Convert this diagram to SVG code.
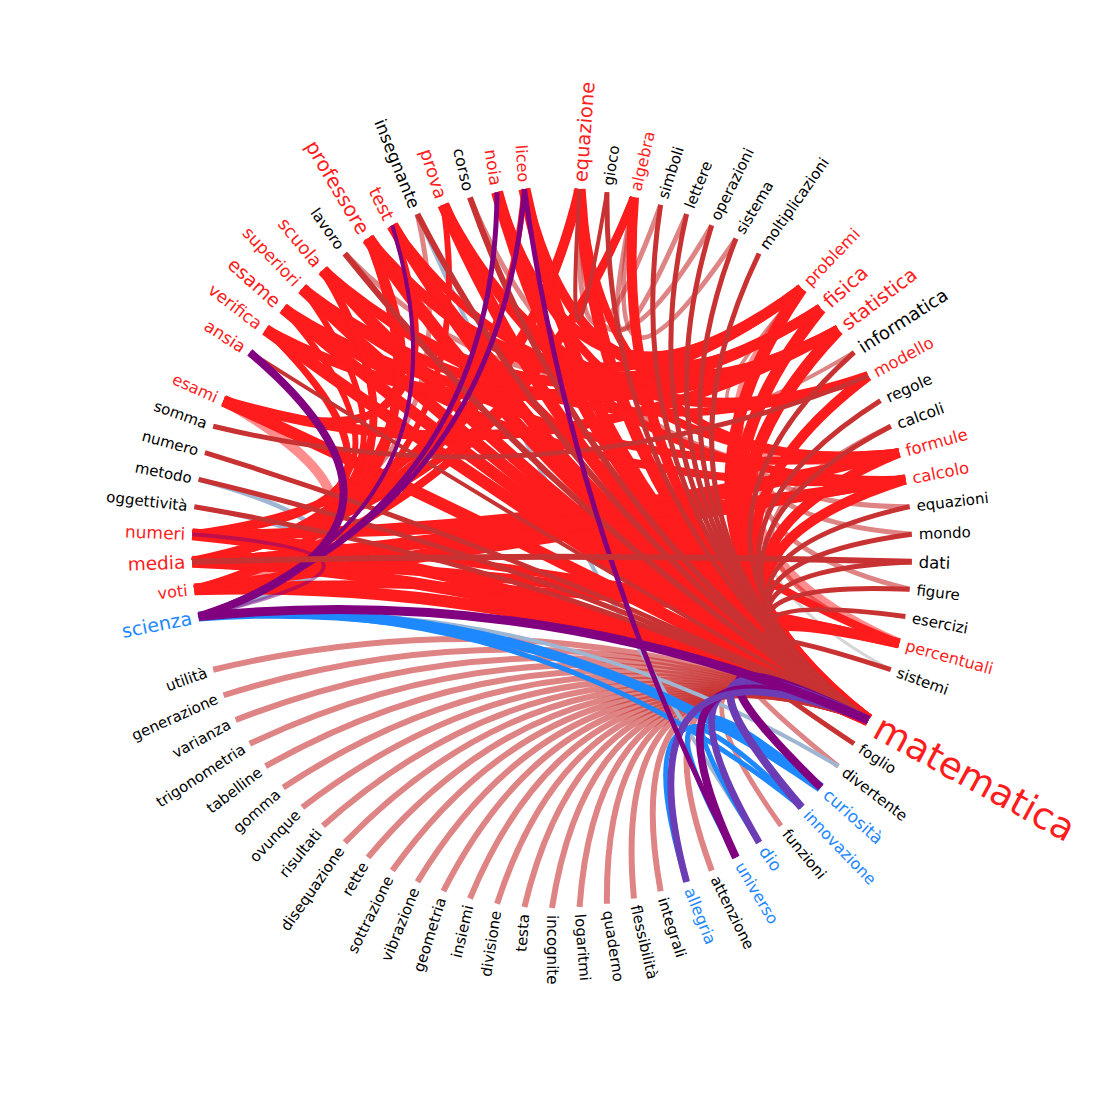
<svg xmlns="http://www.w3.org/2000/svg" width="1105" height="1098" viewBox="0 0 1105 1098">
<style>
path{fill:none}
.pk{stroke:#c83232;stroke-opacity:.6}
.dr{stroke:#c83232}
.r{stroke:#ff1c1c}
.rl{stroke:#ff1c1c;stroke-opacity:.5}
.pu{stroke:#800080}
.pb{stroke:#6c3cb4}
.bl{stroke:#1e88ff}
.lb{stroke:#9fb6d3}
.gr{stroke:#d6d6d6}
text{font-family:"DejaVu Sans","Liberation Sans",sans-serif}
.k{fill:#000}.rd{fill:#ff1c1c}.b{fill:#1e88ff}
.L{text-anchor:end}
</style>
<rect width="1105" height="1098" fill="#fff"/>
<defs>
<path id="e1" d="M360 0Q100.7 3.9 358.9 27.6"/>
<path id="e2" d="M360 0Q100.2 7.7 355.8 55"/>
<path id="e3" d="M360 0Q99.5 11.5 350.5 82"/>
<path id="e4" d="M360 0Q98.5 15.2 343.2 108.6"/>
<path id="e5" d="M360 0Q97.1 18.8 333.9 134.6"/>
<path id="e6" d="M360 0Q95.6 22.4 322.6 159.7"/>
<path id="e7" d="M360 0Q93.7 25.8 309.4 184"/>
<path id="e8" d="M360 0Q91.6 29 294.5 207.1"/>
<path id="e9" d="M360 0Q89.3 32.1 277.7 229"/>
<path id="e10" d="M360 0Q86.7 34.9 259.4 249.6"/>
<path id="e11" d="M360 0Q83.9 37.6 239.5 268.8"/>
<path id="e12" d="M360 0Q81 40.1 218.2 286.3"/>
<path id="e13" d="M360 0Q77.8 42.3 195.7 302.2"/>
<path id="e14" d="M360 0Q74.5 44.3 172 316.3"/>
<path id="e15" d="M360 0Q71 46 147.3 328.5"/>
<path id="e16" d="M360 0Q67.4 47.4 121.7 338.8"/>
<path id="e17" d="M360 0Q63.8 48.6 95.4 347.1"/>
<path id="e18" d="M360 0Q60 49.5 68.5 353.4"/>
<path id="e19" d="M360 0Q56.2 50.1 41.3 357.6"/>
<path id="e20" d="M360 0Q52.3 50.4 13.8 359.7"/>
<path id="e21" d="M360 0Q48.5 50.4 -13.8 359.7"/>
<path id="e22" d="M360 0Q44.6 50.1 -41.3 357.6"/>
<path id="e23" d="M360 0Q40.8 49.5 -68.5 353.4"/>
<path id="e24" d="M360 0Q37 48.6 -95.4 347.1"/>
<path id="e25" d="M360 0Q33.4 47.4 -121.7 338.8"/>
<path id="e26" d="M360 0Q29.8 46 -147.3 328.5"/>
<path id="e27" d="M360 0Q26.3 44.3 -172 316.3"/>
<path id="e28" d="M360 0Q23 42.3 -195.7 302.2"/>
<path id="e29" d="M360 0Q19.8 40.1 -218.2 286.3"/>
<path id="e30" d="M360 0Q16.9 37.6 -239.5 268.8"/>
<path id="e31" d="M360 0Q14.1 34.9 -259.4 249.6"/>
<path id="e32" d="M360 0Q11.5 32.1 -277.7 229"/>
<path id="e33" d="M360 0Q9.2 29 -294.5 207.1"/>
<path id="e34" d="M360 0Q7.1 25.8 -309.4 184"/>
<path id="e35" d="M360 0Q5.3 22.4 -322.6 159.7"/>
<path id="e36" d="M360 0Q3.7 18.8 -333.9 134.6"/>
<path id="e37" d="M360 0Q2.4 15.2 -343.2 108.6"/>
<path id="e38" d="M360 0Q1.3 11.5 -350.5 82"/>
<path id="e39" d="M360 0Q.6 7.7 -355.8 55"/>
<path id="e40" d="M360 0Q.1 3.9 -358.9 27.6"/>
</defs>
<g id="connectors" transform="translate(552 548)">
<g class="pk" stroke-width="6" transform="rotate(28.54)">
<use href="#e2" stroke-width="5"/><use href="#e5" stroke-width="5"/><use href="#e8"/><use href="#e10"/><use href="#e11"/><use href="#e12"/><use href="#e13"/><use href="#e14"/><use href="#e15"/><use href="#e16"/><use href="#e17"/><use href="#e18"/><use href="#e19"/><use href="#e20"/><use href="#e21"/><use href="#e22"/><use href="#e23"/><use href="#e24"/><use href="#e25"/><use href="#e26"/><use href="#e27"/><use href="#e28"/><use href="#e29"/><use href="#e30"/>
</g>
<g class="pk" stroke-width="5">
<use href="#e3" transform="rotate(-85.61)"/>
<use href="#e2" transform="rotate(-76.83)"/>
<use href="#e5" transform="rotate(-85.61)"/>
<use href="#e4" transform="rotate(-76.83)"/>
<use href="#e3" transform="rotate(-46.1)" stroke-width="4"/>
<use href="#e8" transform="rotate(-19.76)"/>
<use href="#e9" transform="rotate(-46.1)"/>
<use href="#e9" transform="rotate(-41.71)"/>
<use href="#e10" transform="rotate(-37.32)"/>
<use href="#e19" transform="rotate(234.88)"/>
<use href="#e16" transform="rotate(177.8)"/>
<use href="#e21" transform="rotate(256.83)"/>
</g>
<use class="gr" href="#e12" transform="rotate(-32.93)" stroke-width="3"/>
<g class="lb">
<use href="#e5" transform="rotate(169.02)" stroke-width="5"/>
<use href="#e4" transform="rotate(169.02)" stroke-width="4"/>
<use href="#e30" transform="rotate(37.32)" stroke-width="4"/>
<use href="#e38" transform="rotate(248.05)" stroke-width="4"/>
</g>
<g class="r" stroke-width="8">
<use href="#e26" transform="rotate(-85.61)" stroke-width="12"/>
<use href="#e24" transform="rotate(-76.83)" stroke-width="10"/>
<use href="#e17" transform="rotate(-46.1)" stroke-width="12"/>
<use href="#e16" transform="rotate(-41.71)" stroke-width="12"/>
<use href="#e15" transform="rotate(-37.32)" stroke-width="12"/>
<use href="#e13" transform="rotate(-28.54)" stroke-width="10"/>
<use href="#e10" transform="rotate(-15.37)" stroke-width="10"/>
<use href="#e9" transform="rotate(-10.98)" stroke-width="10"/>
<use href="#e3" transform="rotate(15.36)" stroke-width="10"/>
<use href="#e33" transform="rotate(28.54)" stroke-width="12"/>
<use href="#e34" transform="rotate(28.54)" stroke-width="12"/>
<use href="#e35" transform="rotate(28.54)" stroke-width="12"/>
<use href="#e40" transform="rotate(28.54)" stroke-width="12"/>
<use href="#e39" transform="rotate(217.32)" stroke-width="12"/>
<use href="#e38" transform="rotate(221.71)" stroke-width="12"/>
<use href="#e37" transform="rotate(226.1)" stroke-width="12"/>
<use href="#e36" transform="rotate(230.49)" stroke-width="12"/>
<use href="#e34" transform="rotate(239.27)" stroke-width="13"/>
<use href="#e33" transform="rotate(243.66)" stroke-width="12"/>
<use href="#e31" transform="rotate(252.44)" stroke-width="12"/>
<use href="#e29" transform="rotate(261.22)" stroke-width="12"/>
<use href="#e28" transform="rotate(265.61)" stroke-width="12"/>
<g transform="rotate(239.27)"><use href="#e17" stroke-width="10"/><use href="#e18"/><use href="#e19" stroke-width="10"/></g>
<g transform="rotate(230.49)"><use href="#e20" stroke-width="10"/><use href="#e23"/></g>
<g transform="rotate(226.1)"><use href="#e22" stroke-width="10"/><use href="#e27"/></g>
<g transform="rotate(221.71)"><use href="#e22" stroke-width="10"/><use href="#e29"/></g>
<use href="#e22" transform="rotate(217.32)" stroke-width="10"/>
<g transform="rotate(243.66)"><use href="#e18"/><use href="#e30"/></g>
<g transform="rotate(252.44)"><use href="#e18" stroke-width="10"/><use href="#e22"/></g>
<g transform="rotate(261.22)"><use href="#e12" stroke-width="10"/><use href="#e19"/></g>
<g transform="rotate(265.61)"><use href="#e12"/><use href="#e13" stroke-width="10"/></g>
<g transform="rotate(177.8)"><use href="#e14"/><use href="#e12"/><use href="#e11" stroke-width="6"/><use href="#e9" stroke-width="6"/><use href="#e20" stroke-width="6"/><use href="#e22" stroke-width="10"/><use href="#e24"/><use href="#e39" stroke-width="10"/><use href="#e38"/></g>
<g transform="rotate(173.41)"><use href="#e15"/><use href="#e13" stroke-width="6"/><use href="#e18" stroke-width="6"/><use href="#e25"/><use href="#e39" stroke-width="10"/><use href="#e40"/></g>
<g transform="rotate(182.2)"><use href="#e9" stroke-width="6"/><use href="#e8" stroke-width="6"/><use href="#e21"/><use href="#e38" stroke-width="10"/><use href="#e37"/></g>
<g transform="rotate(204.15)"><use href="#e8"/><use href="#e9" stroke-width="6"/><use href="#e27" stroke-width="10"/></g>
<use href="#e16" transform="rotate(-85.61)"/>
<g transform="rotate(15.36)"><use href="#e37" stroke-width="10"/><use href="#e38"/><use href="#e36"/></g>
</g>
<g class="rl">
<use href="#e7" transform="rotate(173.41)" stroke-width="10"/>
<use href="#e12" transform="rotate(-37.32)" stroke-width="10"/>
<use href="#e7" transform="rotate(-46.1)" stroke-width="8"/>
</g>
<g class="dr" stroke-width="5">
<use href="#e25" transform="rotate(-81.22)"/>
<use href="#e23" transform="rotate(-72.44)"/>
<use href="#e22" transform="rotate(-68.05)"/>
<use href="#e21" transform="rotate(-63.66)"/>
<use href="#e20" transform="rotate(-59.27)"/>
<use href="#e19" transform="rotate(-54.88)"/>
<use href="#e14" transform="rotate(-32.93)"/>
<use href="#e12" transform="rotate(-24.15)"/>
<use href="#e11" transform="rotate(-19.76)"/>
<use href="#e8" transform="rotate(-6.59)"/>
<use href="#e7" transform="rotate(-2.2)"/>
<use href="#e6" transform="rotate(2.19)"/>
<use href="#e5" transform="rotate(6.58)"/>
<use href="#e4" transform="rotate(10.97)"/>
<use href="#e2" transform="rotate(19.76)"/>
<use href="#e1" transform="rotate(28.54)"/>
<use href="#e36" transform="rotate(28.54)"/>
<use href="#e37" transform="rotate(28.54)"/>
<use href="#e38" transform="rotate(28.54)"/>
<use href="#e40" transform="rotate(212.93)" stroke-width="4"/>
<use href="#e35" transform="rotate(234.88)" stroke-width="6"/>
<use href="#e32" transform="rotate(248.05)" stroke-width="6"/>
<use href="#e30" transform="rotate(256.83)" stroke-width="6"/>
<use href="#e1" transform="rotate(-85.61)" stroke-width="4"/>
<use href="#e30" transform="rotate(199.76)"/>
</g>
<g class="bl">
<use href="#e29" transform="rotate(41.71)" stroke-width="10"/>
<use href="#e28" transform="rotate(46.1)" stroke-width="5"/>
<use href="#e3" transform="rotate(41.71)" stroke-width="5"/>
<use href="#e3" transform="rotate(46.1)" stroke-width="5"/>
<use href="#e6" transform="rotate(41.71)" stroke-width="5"/>
</g>
<g>
<use class="pu" href="#e3" transform="rotate(28.54)" stroke-width="8"/>
<use class="pb" href="#e4" transform="rotate(28.54)" stroke-width="8"/>
<use class="pb" href="#e6" transform="rotate(28.54)" stroke-width="7"/>
<use class="pu" href="#e7" transform="rotate(28.54)" stroke-width="8"/>
<use class="pb" href="#e9" transform="rotate(28.54)" stroke-width="7"/>
<use class="pu" href="#e32" transform="rotate(28.54)" stroke-width="9"/>
<use class="pu" href="#e3" transform="rotate(169.02)" stroke-width="4" stroke-opacity=".5"/>
<use class="pu" href="#e10" transform="rotate(169.02)" stroke-width="8"/>
<use class="pu" href="#e21" transform="rotate(169.02)" stroke-width="5"/>
<use class="pu" href="#e22" transform="rotate(169.02)" stroke-width="5"/>
<use class="pu" href="#e17" transform="rotate(169.02)" stroke-width="4"/>
<use class="pu" href="#e35" transform="rotate(265.61)" stroke-width="5"/>
</g>
<use class="dr" href="#e40" transform="rotate(2.19)" stroke-width="6"/>
</g>
<g id="nodes" transform="translate(552 548)" font-size="15">
<g id="n-equazione"><text class="rd" font-size="19.5" dy=".35em" transform="rotate(-85.61) translate(367 0)">equazione</text></g>
<g id="n-gioco"><text class="k" dy=".35em" transform="rotate(-81.22) translate(367 0)">gioco</text></g>
<g id="n-algebra"><text class="rd" font-size="16" dy=".35em" transform="rotate(-76.83) translate(367 0)">algebra</text></g>
<g id="n-simboli"><text class="k" dy=".35em" transform="rotate(-72.44) translate(367 0)">simboli</text></g>
<g id="n-lettere"><text class="k" dy=".35em" transform="rotate(-68.05) translate(367 0)">lettere</text></g>
<g id="n-operazioni"><text class="k" dy=".35em" transform="rotate(-63.66) translate(367 0)">operazioni</text></g>
<g id="n-sistema"><text class="k" dy=".35em" transform="rotate(-59.27) translate(367 0)">sistema</text></g>
<g id="n-moltiplicazioni"><text class="k" dy=".35em" transform="rotate(-54.88) translate(367 0)">moltiplicazioni</text></g>
<g id="n-problemi"><text class="rd" font-size="16.5" dy=".35em" transform="rotate(-46.1) translate(367 0)">problemi</text></g>
<g id="n-fisica"><text class="rd" font-size="20" dy=".35em" transform="rotate(-41.71) translate(367 0)">fisica</text></g>
<g id="n-statistica"><text class="rd" font-size="19.5" dy=".35em" transform="rotate(-37.32) translate(367 0)">statistica</text></g>
<g id="n-informatica"><text class="k" font-size="18" dy=".35em" transform="rotate(-32.93) translate(367 0)">informatica</text></g>
<g id="n-modello"><text class="rd" font-size="16.5" dy=".35em" transform="rotate(-28.54) translate(367 0)">modello</text></g>
<g id="n-regole"><text class="k" font-size="15.5" dy=".35em" transform="rotate(-24.15) translate(367 0)">regole</text></g>
<g id="n-calcoli"><text class="k" font-size="15.5" dy=".35em" transform="rotate(-19.76) translate(367 0)">calcoli</text></g>
<g id="n-formule"><text class="rd" font-size="16.5" dy=".35em" transform="rotate(-15.37) translate(367 0)">formule</text></g>
<g id="n-calcolo"><text class="rd" font-size="16.5" dy=".35em" transform="rotate(-10.98) translate(367 0)">calcolo</text></g>
<g id="n-equazioni"><text class="k" dy=".35em" transform="rotate(-6.59) translate(367 0)">equazioni</text></g>
<g id="n-mondo"><text class="k" dy=".35em" transform="rotate(-2.2) translate(367 0)">mondo</text></g>
<g id="n-dati"><text class="k" font-size="16.5" dy=".35em" transform="rotate(2.19) translate(367 0)">dati</text></g>
<g id="n-figure"><text class="k" dy=".35em" transform="rotate(6.58) translate(367 0)">figure</text></g>
<g id="n-esercizi"><text class="k" dy=".35em" transform="rotate(10.97) translate(367 0)">esercizi</text></g>
<g id="n-percentuali"><text class="rd" font-size="16" dy=".35em" transform="rotate(15.36) translate(367 0)">percentuali</text></g>
<g id="n-sistemi"><text class="k" dy=".35em" transform="rotate(19.76) translate(367 0)">sistemi</text></g>
<g id="n-matematica"><text class="rd" font-size="37" dy=".35em" transform="rotate(28.54) translate(370 0)">matematica</text></g>
<g id="n-foglio"><text class="k" dy=".35em" transform="rotate(32.93) translate(367 0)">foglio</text></g>
<g id="n-divertente"><text class="k" dy=".35em" transform="rotate(37.32) translate(367 0)">divertente</text></g>
<g id="n-curiosita"><text class="b" font-size="17" dy=".35em" transform="rotate(41.71) translate(367 0)">curiosità</text></g>
<g id="n-innovazione"><text class="b" font-size="16" dy=".35em" transform="rotate(46.1) translate(367 0)">innovazione</text></g>
<g id="n-funzioni"><text class="k" dy=".35em" transform="rotate(50.49) translate(367 0)">funzioni</text></g>
<g id="n-dio"><text class="b" font-size="17" dy=".35em" transform="rotate(54.88) translate(367 0)">dio</text></g>
<g id="n-universo"><text class="b" font-size="16" dy=".35em" transform="rotate(59.27) translate(367 0)">universo</text></g>
<g id="n-attenzione"><text class="k" dy=".35em" transform="rotate(63.66) translate(367 0)">attenzione</text></g>
<g id="n-allegria"><text class="b" font-size="16" dy=".35em" transform="rotate(68.05) translate(367 0)">allegria</text></g>
<g id="n-integrali"><text class="k" dy=".35em" transform="rotate(72.44) translate(367 0)">integrali</text></g>
<g id="n-flessibilita"><text class="k" dy=".35em" transform="rotate(76.83) translate(367 0)">flessibilità</text></g>
<g id="n-quaderno"><text class="k" dy=".35em" transform="rotate(81.22) translate(367 0)">quaderno</text></g>
<g id="n-logaritmi"><text class="k" dy=".35em" transform="rotate(85.61) translate(367 0)">logaritmi</text></g>
<g id="n-incognite"><text class="k" dy=".35em" transform="rotate(90) translate(367 0)">incognite</text></g>
<g id="n-testa"><text class="k L" dy=".35em" transform="rotate(-85.61) translate(-367 0)">testa</text></g>
<g id="n-divisione"><text class="k L" dy=".35em" transform="rotate(-81.22) translate(-367 0)">divisione</text></g>
<g id="n-insiemi"><text class="k L" dy=".35em" transform="rotate(-76.83) translate(-367 0)">insiemi</text></g>
<g id="n-geometria"><text class="k L" dy=".35em" transform="rotate(-72.44) translate(-367 0)">geometria</text></g>
<g id="n-vibrazione"><text class="k L" dy=".35em" transform="rotate(-68.05) translate(-367 0)">vibrazione</text></g>
<g id="n-sottrazione"><text class="k L" dy=".35em" transform="rotate(-63.66) translate(-367 0)">sottrazione</text></g>
<g id="n-rette"><text class="k L" dy=".35em" transform="rotate(-59.27) translate(-367 0)">rette</text></g>
<g id="n-disequazione"><text class="k L" dy=".35em" transform="rotate(-54.88) translate(-367 0)">disequazione</text></g>
<g id="n-risultati"><text class="k L" dy=".35em" transform="rotate(-50.49) translate(-367 0)">risultati</text></g>
<g id="n-ovunque"><text class="k L" dy=".35em" transform="rotate(-46.1) translate(-367 0)">ovunque</text></g>
<g id="n-gomma"><text class="k L" dy=".35em" transform="rotate(-41.71) translate(-367 0)">gomma</text></g>
<g id="n-tabelline"><text class="k L" dy=".35em" transform="rotate(-37.32) translate(-367 0)">tabelline</text></g>
<g id="n-trigonometria"><text class="k L" dy=".35em" transform="rotate(-32.93) translate(-367 0)">trigonometria</text></g>
<g id="n-varianza"><text class="k L" dy=".35em" transform="rotate(-28.54) translate(-367 0)">varianza</text></g>
<g id="n-generazione"><text class="k L" dy=".35em" transform="rotate(-24.15) translate(-367 0)">generazione</text></g>
<g id="n-utilita"><text class="k L" dy=".35em" transform="rotate(-19.76) translate(-367 0)">utilità</text></g>
<g id="n-scienza"><text class="b L" font-size="19" dy=".35em" transform="rotate(-10.98) translate(-367 0)">scienza</text></g>
<g id="n-voti"><text class="rd L" font-size="16" dy=".35em" transform="rotate(-6.59) translate(-367 0)">voti</text></g>
<g id="n-media"><text class="rd L" font-size="18.5" dy=".35em" transform="rotate(-2.2) translate(-367 0)">media</text></g>
<g id="n-numeri"><text class="rd L" font-size="17" dy=".35em" transform="rotate(2.2) translate(-367 0)">numeri</text></g>
<g id="n-oggettivita"><text class="k L" dy=".35em" transform="rotate(6.59) translate(-367 0)">oggettività</text></g>
<g id="n-metodo"><text class="k L" dy=".35em" transform="rotate(10.98) translate(-367 0)">metodo</text></g>
<g id="n-numero"><text class="k L" dy=".35em" transform="rotate(15.37) translate(-367 0)">numero</text></g>
<g id="n-somma"><text class="k L" dy=".35em" transform="rotate(19.76) translate(-367 0)">somma</text></g>
<g id="n-esami"><text class="rd L" font-size="16" dy=".35em" transform="rotate(24.15) translate(-367 0)">esami</text></g>
<g id="n-ansia"><text class="rd L" font-size="17" dy=".35em" transform="rotate(32.93) translate(-367 0)">ansia</text></g>
<g id="n-verifica"><text class="rd L" font-size="17" dy=".35em" transform="rotate(37.32) translate(-367 0)">verifica</text></g>
<g id="n-esame"><text class="rd L" font-size="19" dy=".35em" transform="rotate(41.71) translate(-367 0)">esame</text></g>
<g id="n-superiori"><text class="rd L" font-size="17" dy=".35em" transform="rotate(46.1) translate(-367 0)">superiori</text></g>
<g id="n-scuola"><text class="rd L" font-size="18" dy=".35em" transform="rotate(50.49) translate(-367 0)">scuola</text></g>
<g id="n-lavoro"><text class="k L" dy=".35em" transform="rotate(54.88) translate(-367 0)">lavoro</text></g>
<g id="n-professore"><text class="rd L" font-size="20" dy=".35em" transform="rotate(59.27) translate(-367 0)">professore</text></g>
<g id="n-test"><text class="rd L" font-size="18" dy=".35em" transform="rotate(63.66) translate(-367 0)">test</text></g>
<g id="n-insegnante"><text class="k L" font-size="17" dy=".35em" transform="rotate(68.05) translate(-367 0)">insegnante</text></g>
<g id="n-prova"><text class="rd L" font-size="18" dy=".35em" transform="rotate(72.44) translate(-367 0)">prova</text></g>
<g id="n-corso"><text class="k L" font-size="16" dy=".35em" transform="rotate(76.83) translate(-367 0)">corso</text></g>
<g id="n-noia"><text class="rd L" font-size="17" dy=".35em" transform="rotate(81.22) translate(-367 0)">noia</text></g>
<g id="n-liceo"><text class="rd L" font-size="16" dy=".35em" transform="rotate(85.61) translate(-367 0)">liceo</text></g>
</g>
</svg>
